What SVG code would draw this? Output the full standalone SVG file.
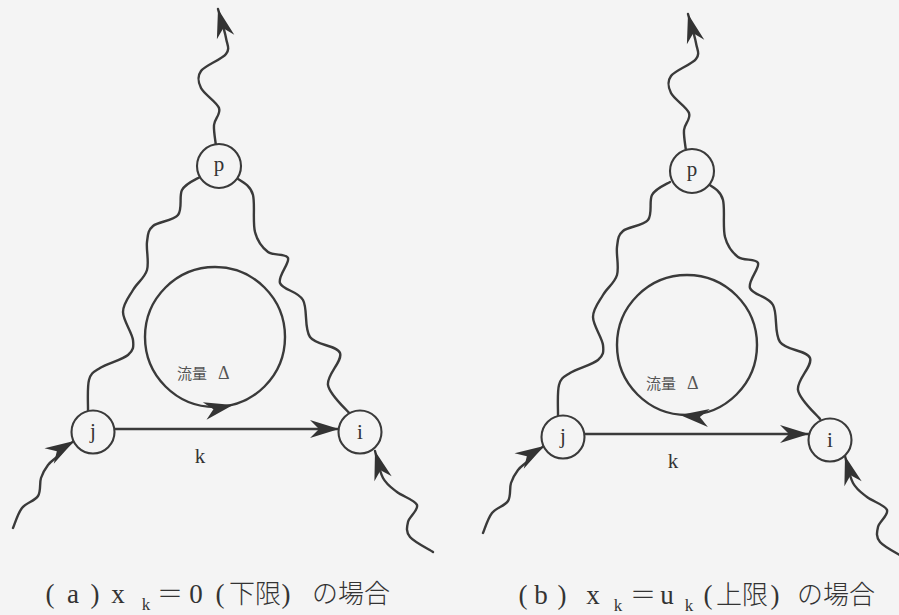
<svg xmlns="http://www.w3.org/2000/svg" xmlns:xlink="http://www.w3.org/1999/xlink" width="899" height="615" viewBox="0 0 899 615">
<style>
.w{fill:none;stroke:#3a3a3a;stroke-width:2.4;stroke-linecap:round;stroke-linejoin:round}
.arr{marker-end:url(#ah)}
.n circle{fill:#f4f4f4;stroke:#3a3a3a;stroke-width:2.1}
.n text{font-family:"Liberation Serif",serif;font-size:21px;fill:#333;text-anchor:middle}
.lbl{font-family:"Liberation Serif","Noto Sans CJK JP",serif;font-size:15px;fill:#555}
.dl{font-size:18px}
.k{font-family:"Liberation Serif",serif;font-size:21px;fill:#333;text-anchor:middle}
.cap{font-family:"Liberation Serif","Noto Sans CJK JP",serif;font-size:27px;fill:#333;text-anchor:middle}
.cj{font-family:"Noto Sans CJK JP",sans-serif;font-size:26px;font-weight:300}
.sub{font-size:17px}
.hd{fill:#333}
</style>
<defs>
<marker id="ah" viewBox="-31 -11 32 22" refX="0" refY="0" markerWidth="32" markerHeight="22" markerUnits="userSpaceOnUse" orient="auto">
<path d="M0,0 L-29,-9 L-20,0 L-29,9 Z" fill="#333"/>
</marker>
<path id="head" class="hd" d="M0,0 L-29,-9 L-20,0 L-29,9 Z"/>
</defs>
<rect width="899" height="615" fill="#f4f4f4"/>

<g id="connectors">
<g id="conn-a">
<path class="w arr" d="M216,146 C215.7,142.5 213.5,131.3 214,125 C214.5,118.7 221.2,114.2 219,108 C216.8,101.8 204,94.2 201,88 C198,81.8 196.8,76.7 201,71 C205.2,65.3 221.8,59.5 226,54 C230.2,48.5 227.3,45.5 226,38 C224.7,30.5 219.3,13.8 218,9"/>
<path class="w" d="M200,177 C194.5,180 185.2,183.8 182,190 C178.8,196.2 182.8,209 178,215 C173.2,221 158.2,221.5 153,226 C147.8,230.5 148,234.7 147,242 C146,249.3 149.3,262 147,270 C144.7,278 137,283 133,290 C129,297 123,303.7 123,312 C123,320.3 132.2,332.8 133,340 C133.8,347.2 133.5,350.3 128,355 C122.5,359.7 106.5,363.8 100,368 C93.5,372.2 91,372.8 89,380 C87,387.2 88.2,405.8 88,411"/>
<path class="w" d="M238,179 C243.8,182.5 250.8,186.3 253,195 C255.2,203.7 252.5,222.5 255,232 C257.5,241.5 262.5,247.7 268,252 C273.5,256.3 286,252.8 288,258 C290,263.2 277.5,276 280,283 C282.5,290 298,291 303,300 C308,309 303.8,328.2 310,337 C316.2,345.8 337,345 340,353 C343,361 326.3,374.8 328,385 C329.7,395.2 346.3,409.2 350,414"/>
<path class="w arr" d="M13,528 C14.5,524.7 17.8,513.3 22,508 C26.2,502.7 34.8,501 38,496 C41.2,491 39.3,483.2 41,478 C42.7,472.8 45.2,468.7 48,465 C50.8,461.3 53.7,460 58,456 C62.3,452 69,444 74,441"/>
<path class="w arr" d="M433,552 C429.2,549.5 414.2,542 410,537 C405.8,532 406.8,527.3 408,522 C409.2,516.7 418.8,510 417,505 C415.2,500 402.7,496.5 397,492 C391.3,487.5 386.7,484.8 383,478 C379.3,471.2 376.3,455.5 375,451"/>
<path class="w arr" d="M114,429 L339,429"/>
<circle class="w" cx="215" cy="337" r="70"/>
<use xlink:href="#head" href="#head" transform="translate(233,405) rotate(-12)"/>
</g>
<g id="conn-b">
<g transform="translate(470,5)">
<path class="w arr" d="M216,146 C215.7,142.5 213.5,131.3 214,125 C214.5,118.7 221.2,114.2 219,108 C216.8,101.8 204,94.2 201,88 C198,81.8 196.8,76.7 201,71 C205.2,65.3 221.8,59.5 226,54 C230.2,48.5 227.3,45.5 226,38 C224.7,30.5 219.3,13.8 218,9"/>
<path class="w" d="M200,177 C194.5,180 185.2,183.8 182,190 C178.8,196.2 182.8,209 178,215 C173.2,221 158.2,221.5 153,226 C147.8,230.5 148,234.7 147,242 C146,249.3 149.3,262 147,270 C144.7,278 137,283 133,290 C129,297 123,303.7 123,312 C123,320.3 132.2,332.8 133,340 C133.8,347.2 133.5,350.3 128,355 C122.5,359.7 106.5,363.8 100,368 C93.5,372.2 91,372.8 89,380 C87,387.2 88.2,405.8 88,411"/>
<path class="w" d="M238,179 C243.8,182.5 250.8,186.3 253,195 C255.2,203.7 252.5,222.5 255,232 C257.5,241.5 262.5,247.7 268,252 C273.5,256.3 286,252.8 288,258 C290,263.2 277.5,276 280,283 C282.5,290 298,291 303,300 C308,309 303.8,328.2 310,337 C316.2,345.8 337,345 340,353 C343,361 326.3,374.8 328,385 C329.7,395.2 346.3,409.2 350,414"/>
<path class="w arr" d="M13,528 C14.5,524.7 17.8,513.3 22,508 C26.2,502.7 34.8,501 38,496 C41.2,491 39.3,483.2 41,478 C42.7,472.8 45.2,468.7 48,465 C50.8,461.3 53.7,460 58,456 C62.3,452 69,444 74,441"/>
<path class="w arr" d="M433,552 C429.2,549.5 414.2,542 410,537 C405.8,532 406.8,527.3 408,522 C409.2,516.7 418.8,510 417,505 C415.2,500 402.7,496.5 397,492 C391.3,487.5 386.7,484.8 383,478 C379.3,471.2 376.3,455.5 375,451"/>
</g>
<path class="w arr" d="M584,434 L809,434"/>
<circle class="w" cx="687" cy="345" r="70"/>
<use xlink:href="#head" href="#head" transform="translate(680,415) rotate(186)"/>
</g>
</g>

<g id="node-a-p" class="n"><circle cx="219" cy="166" r="22"/><text x="219" y="171">p</text></g>
<g id="node-a-j" class="n"><circle cx="93" cy="432" r="21.5"/><text x="93" y="438">j</text></g>
<g id="node-a-i" class="n"><circle cx="360" cy="432" r="21.5"/><text x="360" y="439">i</text></g>
<g id="node-b-p" class="n"><circle cx="692" cy="171" r="22"/><text x="692" y="176">p</text></g>
<g id="node-b-j" class="n"><circle cx="563" cy="437" r="21.5"/><text x="563" y="443">j</text></g>
<g id="node-b-i" class="n"><circle cx="830" cy="440" r="21.5"/><text x="830" y="447">i</text></g>

<g id="labels">
<text class="lbl" x="177" y="379">流量<tspan class="dl" x="218">Δ</tspan></text>
<text class="lbl" x="646" y="389">流量<tspan class="dl" x="687">Δ</tspan></text>
<text class="k" x="200" y="463">k</text>
<text class="k" x="673" y="468">k</text>
</g>

<g id="caption-a" class="cap">
<text x="50" y="603">(</text>
<text x="73" y="603">a</text>
<text x="95" y="603">)</text>
<text x="118" y="603">x</text>
<text x="146" y="610" class="sub">k</text>
<text x="170" y="603" class="cj">＝</text>
<text x="196" y="603">0</text>
<text x="220" y="603">(</text>
<text x="255" y="603" class="cj">下限</text>
<text x="286" y="603">)</text>
<text x="351" y="603" class="cj">の場合</text>
</g>
<g id="caption-b" class="cap">
<text x="523" y="604">(</text>
<text x="541" y="604">b</text>
<text x="562" y="604">)</text>
<text x="593" y="604">x</text>
<text x="618" y="611" class="sub">k</text>
<text x="643" y="604" class="cj">＝</text>
<text x="667" y="604">u</text>
<text x="689" y="611" class="sub">k</text>
<text x="708" y="604">(</text>
<text x="742" y="604" class="cj">上限</text>
<text x="775" y="604">)</text>
<text x="836" y="604" class="cj">の場合</text>
</g>
</svg>
